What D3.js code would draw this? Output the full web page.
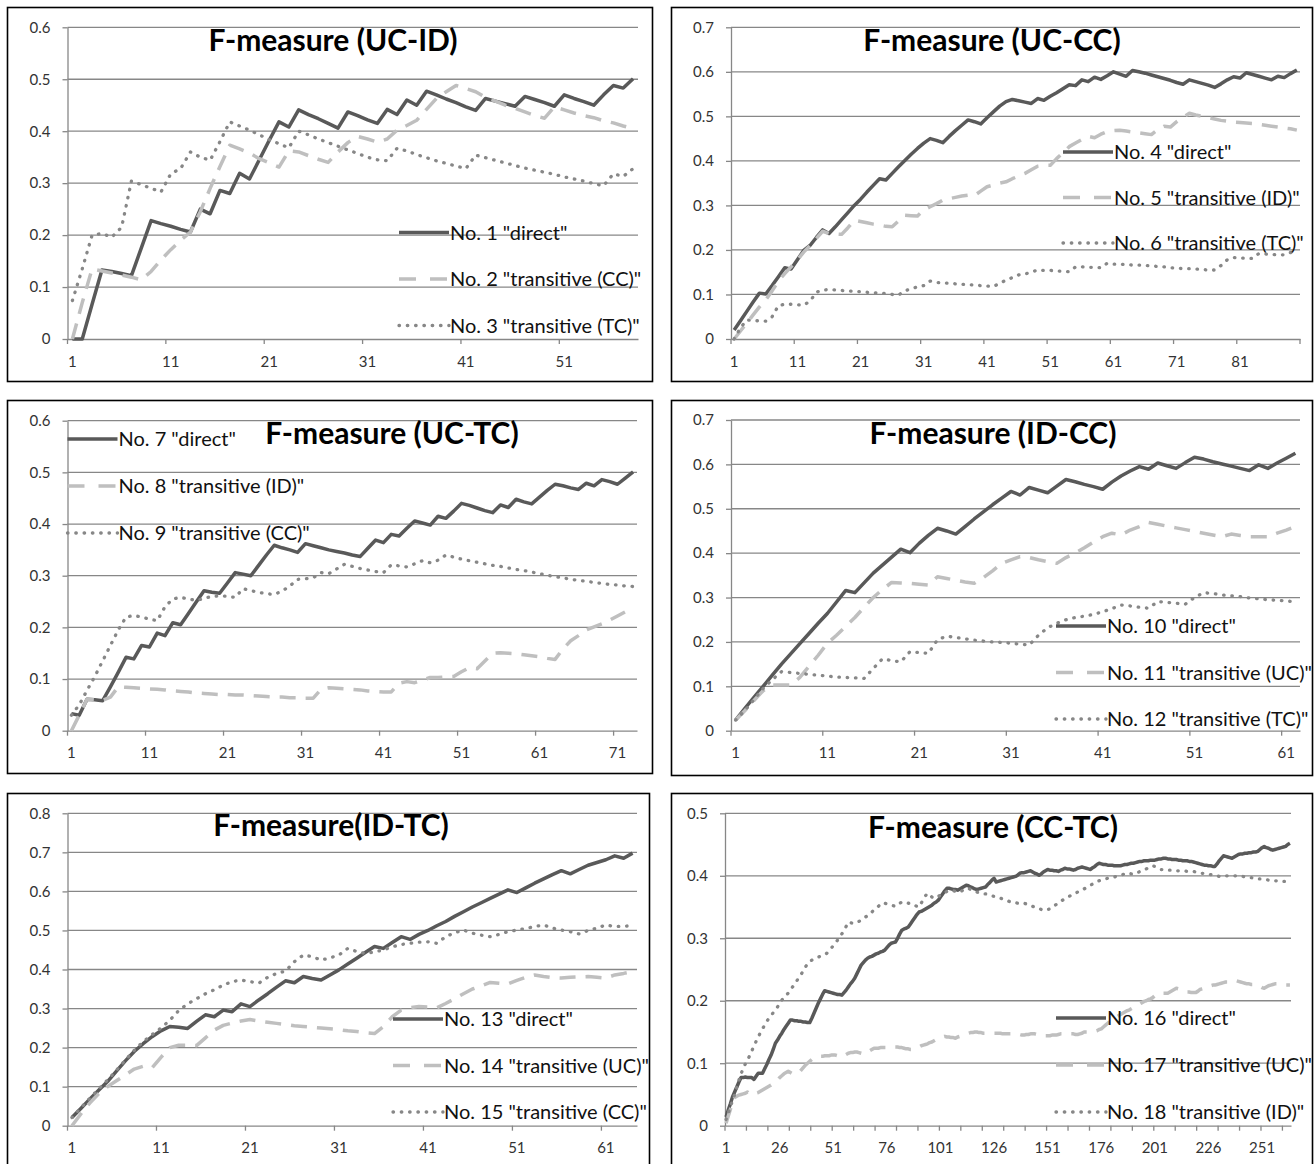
<!DOCTYPE html>
<html>
<head>
<meta charset="utf-8">
<script src="https://cdn.jsdelivr.net/npm/d3@7"></script>
<style>
  body { margin: 0; background: #fff; }
  svg { display: block; font-family: Lato, "Open Sans", sans-serif; }
</style>
</head>
<body>
<div id="chart"></div>
<script>
// values, one value per category (1..N)

// F-measure (UC-ID)
const no1Direct = [0,0,0.067,0.133,0.13,0.126,0.122,0.175,0.228,0.222,0.217,0.211,0.206,0.25,0.241,0.286,0.28,0.319,0.308,0.345,0.382,0.418,0.408,0.441,0.432,0.424,0.415,0.406,0.437,0.43,0.422,0.415,0.442,0.432,0.46,0.45,0.477,0.47,0.462,0.455,0.447,0.44,0.463,0.458,0.453,0.448,0.467,0.461,0.455,0.448,0.47,0.463,0.457,0.45,0.47,0.488,0.483,0.501];
const no2TransCC = [0,0.07,0.135,0.131,0.127,0.123,0.119,0.114,0.13,0.152,0.172,0.19,0.206,0.245,0.29,0.332,0.373,0.366,0.358,0.347,0.339,0.331,0.362,0.36,0.353,0.346,0.34,0.36,0.378,0.39,0.385,0.379,0.385,0.402,0.411,0.421,0.442,0.463,0.476,0.488,0.482,0.476,0.465,0.458,0.45,0.444,0.437,0.43,0.425,0.447,0.441,0.435,0.43,0.426,0.42,0.416,0.41,0.405];
const no3TransTC = [0.074,0.135,0.2,0.203,0.196,0.215,0.304,0.297,0.29,0.283,0.318,0.328,0.36,0.35,0.344,0.38,0.418,0.41,0.402,0.393,0.384,0.376,0.368,0.4,0.393,0.385,0.378,0.371,0.364,0.357,0.35,0.345,0.343,0.367,0.362,0.355,0.349,0.343,0.338,0.333,0.328,0.354,0.349,0.344,0.339,0.334,0.329,0.325,0.321,0.317,0.312,0.308,0.304,0.299,0.295,0.318,0.313,0.328];

// F-measure (UC-CC)
const no4Direct = [0.02,0.041,0.062,0.083,0.103,0.101,0.12,0.14,0.16,0.157,0.178,0.199,0.21,0.228,0.245,0.237,0.252,0.268,0.284,0.3,0.314,0.33,0.345,0.36,0.357,0.372,0.387,0.401,0.415,0.428,0.44,0.45,0.446,0.441,0.455,0.468,0.48,0.492,0.488,0.483,0.497,0.51,0.523,0.533,0.538,0.535,0.532,0.529,0.54,0.536,0.545,0.553,0.562,0.571,0.569,0.582,0.578,0.588,0.583,0.591,0.6,0.595,0.59,0.603,0.6,0.597,0.593,0.589,0.585,0.581,0.576,0.572,0.582,0.578,0.574,0.57,0.565,0.573,0.582,0.589,0.586,0.598,0.594,0.59,0.586,0.582,0.59,0.587,0.596,0.604];
const no5TransID = [0,0.018,0.036,0.054,0.072,0.088,0.108,0.13,0.147,0.162,0.178,0.195,0.21,0.226,0.242,0.237,0.236,0.235,0.25,0.267,0.264,0.261,0.258,0.256,0.253,0.252,0.265,0.278,0.277,0.276,0.29,0.297,0.304,0.312,0.315,0.318,0.321,0.323,0.322,0.332,0.342,0.346,0.35,0.353,0.36,0.366,0.372,0.38,0.388,0.39,0.39,0.405,0.418,0.432,0.44,0.448,0.455,0.452,0.46,0.466,0.468,0.469,0.467,0.465,0.463,0.461,0.459,0.47,0.478,0.476,0.488,0.498,0.507,0.503,0.5,0.497,0.494,0.491,0.489,0.487,0.486,0.485,0.484,0.482,0.48,0.478,0.476,0.474,0.472,0.469];
const no6TransTC = [0,0.025,0.043,0.041,0.041,0.04,0.05,0.075,0.078,0.078,0.077,0.076,0.085,0.105,0.11,0.111,0.11,0.109,0.108,0.107,0.106,0.105,0.104,0.103,0.102,0.1,0.099,0.108,0.113,0.117,0.12,0.13,0.127,0.126,0.125,0.124,0.123,0.122,0.121,0.12,0.119,0.118,0.125,0.132,0.138,0.144,0.146,0.15,0.155,0.154,0.154,0.153,0.152,0.151,0.162,0.162,0.161,0.161,0.16,0.17,0.168,0.168,0.167,0.166,0.166,0.165,0.164,0.163,0.162,0.16,0.159,0.158,0.158,0.157,0.156,0.155,0.155,0.165,0.178,0.183,0.182,0.181,0.181,0.192,0.191,0.19,0.189,0.189,0.194,0.2];

// F-measure (UC-TC)
const no7Direct = [0.033,0.03,0.061,0.06,0.058,0.085,0.113,0.142,0.139,0.165,0.162,0.189,0.184,0.209,0.205,0.227,0.249,0.271,0.268,0.266,0.286,0.306,0.303,0.3,0.32,0.34,0.359,0.354,0.35,0.345,0.362,0.358,0.354,0.35,0.347,0.344,0.34,0.337,0.353,0.369,0.364,0.38,0.377,0.392,0.406,0.402,0.398,0.415,0.411,0.425,0.44,0.436,0.431,0.426,0.422,0.437,0.432,0.448,0.443,0.439,0.452,0.465,0.477,0.474,0.47,0.467,0.479,0.474,0.486,0.482,0.477,0.489,0.501];
const no8TransID = [0,0.03,0.061,0.06,0.059,0.065,0.085,0.084,0.083,0.082,0.081,0.08,0.079,0.077,0.076,0.075,0.073,0.072,0.071,0.07,0.07,0.069,0.069,0.068,0.067,0.066,0.065,0.065,0.064,0.064,0.063,0.063,0.08,0.083,0.082,0.081,0.08,0.079,0.077,0.076,0.075,0.075,0.092,0.095,0.093,0.098,0.103,0.103,0.104,0.105,0.114,0.122,0.12,0.135,0.15,0.151,0.15,0.149,0.147,0.145,0.143,0.14,0.138,0.158,0.174,0.184,0.195,0.201,0.207,0.214,0.222,0.23,0.238];
const no9TransCC = [0.03,0.05,0.078,0.105,0.135,0.165,0.195,0.22,0.223,0.22,0.216,0.213,0.24,0.255,0.258,0.255,0.252,0.256,0.26,0.261,0.26,0.258,0.275,0.271,0.268,0.265,0.264,0.27,0.28,0.293,0.294,0.296,0.306,0.304,0.313,0.322,0.318,0.314,0.311,0.308,0.306,0.321,0.319,0.317,0.323,0.329,0.325,0.33,0.34,0.336,0.332,0.329,0.326,0.323,0.32,0.318,0.315,0.312,0.31,0.307,0.304,0.301,0.298,0.296,0.293,0.291,0.289,0.287,0.285,0.283,0.282,0.28,0.279];

// F-measure (ID-CC)
const no10Direct = [0.024,0.05,0.075,0.1,0.125,0.15,0.173,0.196,0.219,0.242,0.264,0.29,0.316,0.311,0.333,0.355,0.373,0.391,0.409,0.401,0.422,0.44,0.456,0.45,0.443,0.46,0.477,0.493,0.509,0.524,0.539,0.531,0.548,0.542,0.536,0.551,0.566,0.561,0.555,0.55,0.544,0.56,0.574,0.585,0.595,0.589,0.603,0.597,0.591,0.604,0.616,0.612,0.606,0.601,0.596,0.591,0.586,0.599,0.591,0.603,0.614,0.625];
const no11TransUC = [0.024,0.045,0.068,0.09,0.103,0.103,0.103,0.12,0.145,0.17,0.197,0.215,0.235,0.255,0.278,0.3,0.318,0.334,0.333,0.332,0.33,0.328,0.347,0.343,0.339,0.335,0.332,0.345,0.36,0.377,0.385,0.392,0.39,0.385,0.381,0.377,0.39,0.4,0.412,0.425,0.437,0.445,0.441,0.452,0.46,0.469,0.465,0.461,0.457,0.453,0.449,0.445,0.441,0.437,0.443,0.44,0.437,0.437,0.437,0.445,0.452,0.46];
const no12TransTC = [0.024,0.045,0.07,0.095,0.115,0.133,0.131,0.129,0.127,0.125,0.123,0.121,0.12,0.119,0.118,0.14,0.162,0.158,0.155,0.178,0.176,0.174,0.205,0.213,0.21,0.207,0.204,0.202,0.2,0.199,0.197,0.195,0.193,0.215,0.232,0.242,0.25,0.255,0.258,0.262,0.268,0.275,0.283,0.281,0.278,0.276,0.291,0.289,0.287,0.285,0.3,0.311,0.309,0.306,0.304,0.302,0.299,0.297,0.295,0.294,0.292,0.291];

// F-measure(ID-TC)
const no13Direct = [0.021,0.044,0.068,0.091,0.113,0.14,0.166,0.19,0.21,0.228,0.243,0.254,0.252,0.249,0.267,0.284,0.279,0.296,0.292,0.312,0.305,0.322,0.338,0.355,0.371,0.366,0.382,0.377,0.373,0.386,0.399,0.414,0.429,0.444,0.459,0.454,0.469,0.484,0.477,0.49,0.5,0.512,0.523,0.536,0.548,0.56,0.571,0.582,0.593,0.604,0.597,0.609,0.621,0.632,0.643,0.653,0.645,0.656,0.667,0.674,0.681,0.691,0.685,0.698];
const no14TransUC = [0,0.03,0.058,0.082,0.1,0.115,0.13,0.145,0.152,0.148,0.175,0.2,0.206,0.206,0.205,0.225,0.245,0.257,0.263,0.268,0.272,0.268,0.265,0.262,0.259,0.256,0.254,0.252,0.25,0.248,0.246,0.243,0.241,0.238,0.236,0.254,0.279,0.296,0.302,0.305,0.304,0.302,0.313,0.325,0.338,0.35,0.358,0.367,0.365,0.363,0.372,0.38,0.386,0.382,0.379,0.378,0.38,0.381,0.382,0.38,0.378,0.386,0.39,0.395];
const no15TransCC = [0.021,0.046,0.07,0.094,0.117,0.142,0.168,0.193,0.215,0.233,0.25,0.27,0.295,0.312,0.325,0.338,0.348,0.36,0.369,0.373,0.369,0.365,0.38,0.39,0.396,0.42,0.437,0.433,0.424,0.43,0.437,0.454,0.446,0.441,0.445,0.45,0.458,0.464,0.467,0.47,0.471,0.467,0.484,0.494,0.501,0.493,0.488,0.484,0.49,0.497,0.501,0.505,0.51,0.514,0.506,0.501,0.497,0.491,0.5,0.506,0.514,0.51,0.511,0.512];

// F-measure (CC-TC)
const no16Direct = [
  0.014,0.025,0.035,0.046,0.054,0.062,0.07,0.077,0.077,0.078,
  0.077,0.077,0.077,0.074,0.079,0.084,0.084,0.084,0.091,0.098,
  0.106,0.113,0.122,0.132,0.137,0.143,0.148,0.154,0.159,0.164,
  0.169,0.169,0.168,0.168,0.167,0.167,0.166,0.166,0.165,0.165,
  0.172,0.18,0.188,0.196,0.203,0.21,0.216,0.215,0.214,0.213,
  0.212,0.211,0.21,0.21,0.209,0.213,0.217,0.222,0.227,0.231,
  0.236,0.243,0.25,0.257,0.261,0.265,0.268,0.27,0.271,0.273,
  0.275,0.276,0.278,0.279,0.281,0.285,0.289,0.292,0.293,0.294,
  0.3,0.307,0.313,0.315,0.316,0.318,0.323,0.328,0.333,0.338,
  0.342,0.343,0.345,0.347,0.349,0.351,0.353,0.356,0.358,0.361,
  0.366,0.371,0.376,0.38,0.38,0.379,0.378,0.378,0.377,0.379,
  0.381,0.383,0.385,0.384,0.382,0.381,0.379,0.378,0.379,0.38,
  0.381,0.382,0.386,0.389,0.393,0.396,0.39,0.391,0.392,0.393,
  0.394,0.395,0.396,0.397,0.398,0.399,0.401,0.404,0.405,0.405,
  0.406,0.407,0.408,0.406,0.404,0.403,0.401,0.403,0.406,0.408,
  0.41,0.409,0.409,0.408,0.408,0.407,0.409,0.41,0.412,0.411,
  0.411,0.41,0.409,0.41,0.412,0.413,0.414,0.413,0.412,0.411,
  0.41,0.413,0.415,0.418,0.42,0.419,0.418,0.418,0.417,0.417,
  0.417,0.416,0.416,0.416,0.416,0.417,0.418,0.418,0.419,0.42,
  0.42,0.421,0.422,0.423,0.423,0.424,0.424,0.424,0.425,0.425,
  0.425,0.426,0.427,0.427,0.428,0.428,0.427,0.427,0.426,0.426,
  0.426,0.425,0.425,0.424,0.424,0.424,0.423,0.423,0.422,0.421,
  0.42,0.419,0.418,0.417,0.417,0.416,0.416,0.415,0.415,0.419,
  0.424,0.428,0.432,0.431,0.43,0.429,0.428,0.43,0.432,0.434,
  0.435,0.435,0.436,0.436,0.437,0.437,0.438,0.438,0.439,0.442,
  0.445,0.447,0.445,0.444,0.442,0.441,0.442,0.443,0.444,0.445,
  0.446,0.447,0.45,0.452
];
const no17TransUC = [
  0.004,0.015,0.026,0.036,0.045,0.047,0.049,0.05,0.051,0.052,
  0.054,0.051,0.05,0.05,0.052,0.053,0.055,0.057,0.059,0.061,
  0.063,0.065,0.068,0.07,0.073,0.077,0.08,0.083,0.085,0.087,
  0.085,0.083,0.083,0.084,0.085,0.089,0.093,0.097,0.1,0.103,
  0.106,0.108,0.109,0.11,0.111,0.111,0.112,0.112,0.112,0.113,
  0.113,0.113,0.112,0.111,0.11,0.112,0.114,0.116,0.117,0.117,
  0.118,0.118,0.117,0.116,0.115,0.115,0.117,0.12,0.122,0.124,
  0.124,0.124,0.125,0.125,0.125,0.125,0.126,0.126,0.126,0.126,
  0.126,0.125,0.125,0.124,0.123,0.123,0.122,0.122,0.123,0.124,
  0.126,0.128,0.129,0.13,0.131,0.133,0.134,0.136,0.138,0.14,
  0.141,0.142,0.143,0.142,0.142,0.141,0.141,0.14,0.142,0.143,
  0.145,0.146,0.147,0.148,0.149,0.149,0.15,0.15,0.149,0.149,
  0.148,0.148,0.148,0.148,0.148,0.148,0.148,0.148,0.148,0.147,
  0.147,0.147,0.147,0.147,0.147,0.146,0.146,0.146,0.145,0.145,
  0.146,0.146,0.147,0.147,0.147,0.146,0.146,0.145,0.145,0.144,
  0.144,0.144,0.145,0.145,0.145,0.146,0.147,0.147,0.148,0.148,
  0.148,0.147,0.147,0.146,0.146,0.147,0.148,0.15,0.15,0.15,
  0.15,0.15,0.151,0.152,0.154,0.155,0.158,0.161,0.164,0.167,
  0.17,0.172,0.174,0.176,0.178,0.18,0.182,0.184,0.185,0.187,
  0.189,0.191,0.193,0.195,0.197,0.199,0.2,0.202,0.203,0.205,
  0.208,0.21,0.212,0.212,0.212,0.212,0.212,0.214,0.216,0.218,
  0.22,0.219,0.218,0.216,0.215,0.214,0.214,0.213,0.213,0.213,
  0.215,0.218,0.219,0.22,0.222,0.223,0.224,0.225,0.225,0.226,
  0.227,0.228,0.229,0.23,0.23,0.231,0.232,0.233,0.232,0.231,
  0.23,0.229,0.228,0.227,0.227,0.226,0.226,0.225,0.225,0.223,
  0.221,0.22,0.222,0.224,0.225,0.226,0.227,0.227,0.226,0.226,
  0.226,0.225,0.225,0.225
];
const no18TransID = [
  0.01,0.02,0.03,0.04,0.05,0.062,0.073,0.083,0.092,0.099,
  0.105,0.112,0.12,0.127,0.135,0.142,0.149,0.155,0.161,0.167,
  0.172,0.176,0.181,0.185,0.19,0.196,0.201,0.205,0.209,0.212,
  0.217,0.222,0.227,0.232,0.237,0.242,0.248,0.254,0.259,0.263,
  0.265,0.266,0.268,0.27,0.271,0.272,0.274,0.276,0.28,0.284,
  0.288,0.292,0.297,0.302,0.307,0.312,0.319,0.326,0.325,0.324,
  0.324,0.325,0.327,0.329,0.332,0.334,0.336,0.338,0.342,0.345,
  0.348,0.351,0.354,0.357,0.356,0.355,0.354,0.353,0.352,0.351,
  0.353,0.356,0.358,0.357,0.357,0.356,0.356,0.355,0.353,0.351,
  0.35,0.356,0.362,0.368,0.372,0.369,0.366,0.364,0.366,0.367,
  0.369,0.371,0.373,0.375,0.376,0.377,0.376,0.375,0.374,0.374,
  0.376,0.377,0.379,0.38,0.378,0.377,0.375,0.374,0.373,0.372,
  0.371,0.371,0.37,0.369,0.368,0.367,0.366,0.365,0.364,0.363,
  0.362,0.361,0.359,0.358,0.357,0.357,0.356,0.356,0.356,0.356,
  0.355,0.354,0.352,0.351,0.35,0.349,0.348,0.346,0.345,0.345,
  0.346,0.347,0.349,0.352,0.354,0.356,0.359,0.361,0.363,0.365,
  0.367,0.369,0.371,0.372,0.374,0.375,0.377,0.379,0.381,0.383,
  0.385,0.387,0.389,0.391,0.392,0.393,0.394,0.395,0.396,0.397,
  0.398,0.398,0.399,0.4,0.401,0.402,0.403,0.404,0.404,0.403,
  0.403,0.403,0.405,0.407,0.408,0.409,0.411,0.413,0.414,0.416,
  0.415,0.413,0.411,0.41,0.41,0.41,0.409,0.409,0.409,0.409,
  0.408,0.408,0.408,0.408,0.408,0.407,0.407,0.407,0.407,0.406,
  0.405,0.405,0.404,0.404,0.403,0.402,0.402,0.401,0.401,0.4,
  0.399,0.399,0.399,0.4,0.4,0.4,0.4,0.4,0.4,0.399,
  0.399,0.399,0.398,0.398,0.397,0.397,0.396,0.396,0.395,0.395,
  0.394,0.394,0.394,0.393,0.393,0.393,0.392,0.392,0.392,0.391,
  0.391,0.391,0.391,0.392
];

const titles = ["F-measure (UC-ID)", "F-measure (UC-CC)", "F-measure (UC-TC)", "F-measure (ID-CC)", "F-measure(ID-TC)", "F-measure (CC-TC)"];
const legendNames = [
  ['No. 1 "direct"', 'No. 2 "transitive (CC)"', 'No. 3 "transitive (TC)"'],
  ['No. 4 "direct"', 'No. 5 "transitive (ID)"', 'No. 6 "transitive (TC)"'],
  ['No. 7 "direct"', 'No. 8 "transitive (ID)"', 'No. 9 "transitive (CC)"'],
  ['No. 10 "direct"', 'No. 11 "transitive (UC)"', 'No. 12 "transitive (TC)"'],
  ['No. 13 "direct"', 'No. 14 "transitive (UC)"', 'No. 15 "transitive (CC)"'],
  ['No. 16 "direct"', 'No. 17 "transitive (UC)"', 'No. 18 "transitive (ID)"']
];
const yMaxes = [0.6, 0.7, 0.6, 0.7, 0.8, 0.5];
const labelSteps = [10, 10, 10, 10, 10, 25];

const seriesByPanel = [
  [no1Direct, no2TransCC, no3TransTC],
  [no4Direct, no5TransID, no6TransTC],
  [no7Direct, no8TransID, no9TransCC],
  [no10Direct, no11TransUC, no12TransTC],
  [no13Direct, no14TransUC, no15TransCC],
  [no16Direct, no17TransUC, no18TransID]
];

// where each chart sits on the page
const frames = [
  { box: [7.5, 7.5, 645, 374], x0: 67.5, x1: 638, top: 27.3, bot: 339, tx: 333, ty: 51, lx: 399, ly: 232.5, ldy: 46.5 },
  { box: [671.5, 7.5, 641, 374], x0: 731, x1: 1300, top: 27.3, bot: 339, tx: 992, ty: 51, lx: 1063, ly: 152, ldy: 45.5 },
  { box: [7.5, 400.5, 645, 373], x0: 67.5, x1: 637, top: 420.7, bot: 730.7, tx: 392, ty: 444, lx: 67.5, ly: 439, ldy: 47 },
  { box: [671.5, 400.5, 641, 375], x0: 731, x1: 1300, top: 420, bot: 730.7, tx: 993, ty: 444, lx: 1056, ly: 626, ldy: 46.5 },
  { box: [7.5, 793.5, 642, 380], x0: 67.5, x1: 637, top: 813.3, bot: 1125.7, tx: 331, ty: 836, lx: 393, ly: 1019, ldy: 46.5 },
  { box: [671.5, 793.5, 641, 380], x0: 725, x1: 1291, top: 813.3, bot: 1125.7, tx: 993, ty: 838, lx: 1056, ly: 1018, ldy: 47 }
];

const lineStyles = [
  { stroke: "#595959", dash: null, width: 3.5, cap: "butt" },
  { stroke: "#bfbfbf", dash: "16,10", width: 3.5, cap: "butt" },
  { stroke: "#878787", dash: "0.5,7.8", width: 3.3, cap: "round" }
];

const svg = d3
  .select("#chart")
  .append("svg")
  .attr("width", 1314)
  .attr("height", 1164);

frames.forEach((f, pi) => {
  const series = seriesByPanel[pi];
  const n = series[0].length;
  const g = svg.append("g");

  const x = d3.scaleBand().domain(d3.range(1, n + 1)).range([f.x0, f.x1]);
  const cx = (c) => x(c) + x.bandwidth() / 2;
  const y = d3.scaleLinear().domain([0, yMaxes[pi]]).range([f.bot, f.top]);
  const yTicks = d3.range(0, Math.round(yMaxes[pi] * 10) + 1).map((k) => k / 10);

  // frame
  g.append("rect")
    .attr("x", f.box[0])
    .attr("y", f.box[1])
    .attr("width", f.box[2])
    .attr("height", f.box[3])
    .attr("fill", "none")
    .attr("stroke", "#000")
    .attr("stroke-width", 1.6);

  // horizontal gridlines
  g.append("g")
    .selectAll("line")
    .data(yTicks.slice(1))
    .join("line")
    .attr("x1", f.x0)
    .attr("x2", f.x1)
    .attr("y1", (d) => y(d))
    .attr("y2", (d) => y(d))
    .attr("stroke", "#878787")
    .attr("stroke-width", 1.3);

  // y axis
  const yAxis = g.append("g")
    .attr("transform", `translate(${f.x0},0)`)
    .call(
      d3.axisLeft(y)
        .tickValues(yTicks)
        .tickSize(5)
        .tickSizeOuter(0)
        .tickPadding(12)
        .tickFormat((d) => (d === 0 ? "0" : d3.format(".1f")(d)))
    );

  // x axis, labels on category centres
  const xAxis = g.append("g")
    .attr("transform", `translate(0,${f.bot})`)
    .call(
      d3.axisBottom(x)
        .tickValues(d3.range(1, n + 1, labelSteps[pi]))
        .tickSize(0)
        .tickSizeOuter(0)
        .tickPadding(17)
    );

  [yAxis, xAxis].forEach((a) => {
    a.attr("font-family", null).attr("font-size", 15).attr("color", "#878787");
    a.select(".domain").attr("stroke-width", 1.3);
    a.selectAll("line").attr("stroke-width", 1.3);
    a.selectAll("text").attr("fill", "#333");
  });

  // x tick marks sit on category boundaries, every 10
  g.append("g")
    .selectAll("line")
    .data(d3.range(0, n + 1, 10))
    .join("line")
    .attr("x1", (k) => f.x0 + k * x.step())
    .attr("x2", (k) => f.x0 + k * x.step())
    .attr("y1", f.bot)
    .attr("y2", f.bot + 5)
    .attr("stroke", "#878787")
    .attr("stroke-width", 1.3);

  // the three series
  const line = d3
    .line()
    .x((d, i) => cx(i + 1))
    .y((d) => y(d));

  series.forEach((s, si) => {
    const st = lineStyles[si];
    g.append("path")
      .datum(s)
      .attr("d", line)
      .attr("fill", "none")
      .attr("stroke", st.stroke)
      .attr("stroke-width", st.width)
      .attr("stroke-dasharray", st.dash)
      .attr("stroke-linecap", st.cap)
      .attr("stroke-linejoin", "round");
  });

  // title
  g.append("text")
    .attr("x", f.tx)
    .attr("y", f.ty)
    .attr("text-anchor", "middle")
    .attr("font-weight", "bold")
    .attr("font-size", 30)
    .attr("fill", "#000")
    .text(titles[pi]);

  // legend
  legendNames[pi].forEach((name, si) => {
    const st = lineStyles[si];
    const ly = f.ly + si * f.ldy;
    g.append("line")
      .attr("x1", f.lx)
      .attr("x2", f.lx + 50)
      .attr("y1", ly)
      .attr("y2", ly)
      .attr("stroke", st.stroke)
      .attr("stroke-width", st.width)
      .attr("stroke-dasharray", si === 1 ? "17,14" : st.dash)
      .attr("stroke-linecap", st.cap);
    g.append("text")
      .attr("x", f.lx + 51)
      .attr("y", ly)
      .attr("dy", "0.35em")
      .attr("font-size", 20)
      .attr("fill", "#111")
      .text(name);
  });
});
</script>
</body>
</html>
